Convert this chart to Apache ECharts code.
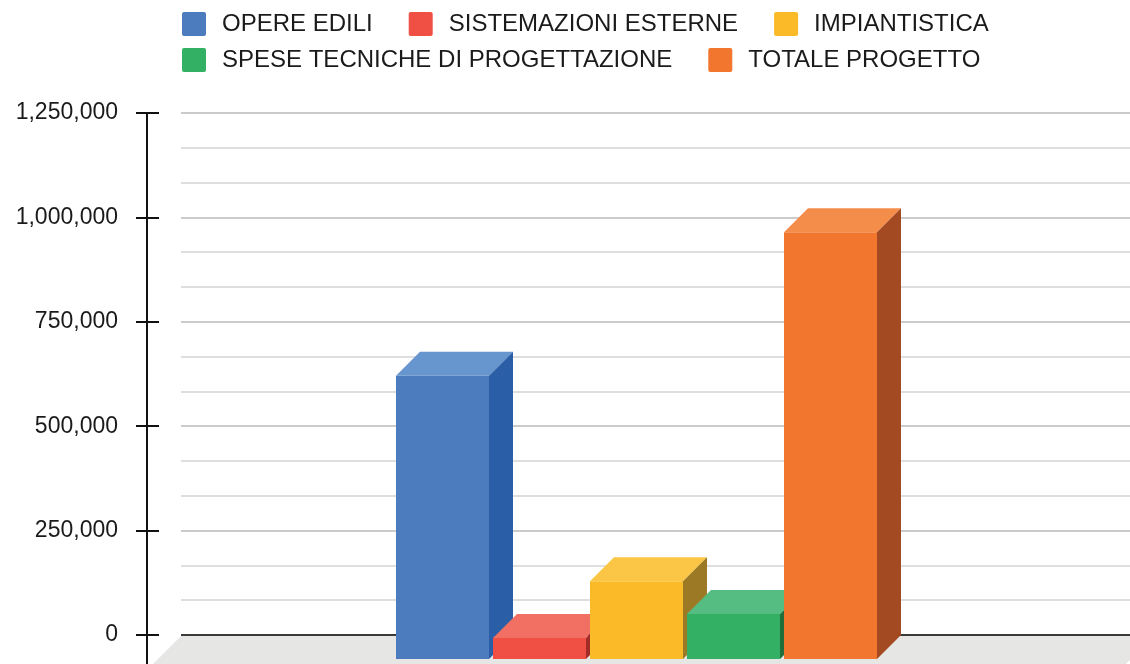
<!DOCTYPE html>
<html>
<head>
<meta charset="utf-8">
<script src="https://cdn.jsdelivr.net/npm/echarts@6/dist/echarts.min.js"></script>
<style>
  html, body { margin: 0; padding: 0; background: #fff; }
  #chart { width: 1130px; height: 664px; }
</style>
</head>
<body>
<div id="chart"></div>
<script>
  // data
  var categories = [''];
  var seriesNames = ['OPERE EDILI', 'SISTEMAZIONI ESTERNE', 'IMPIANTISTICA',
                     'SPESE TECNICHE DI PROGETTAZIONE', 'TOTALE PROGETTO'];
  var seriesValues = [678000, 50000, 186000, 108000, 1022000];
  var yMin = 0, yMax = 1250000, yStep = 250000;

  // front / top / side shades for the 3d look
  var palette = [
    ['#4d7cbe', '#6795cd', '#2a5ea6'],
    ['#ef5043', '#f26f64', '#a32c26'],
    ['#fbba27', '#fbc645', '#9c7924'],
    ['#33b063', '#56bd82', '#1f6e3c'],
    ['#f2762e', '#f48c4a', '#a34a22']
  ];

  var BAR_W = 93, PITCH = 97, DEPTH = 24, NUDGE = 5;
  var FONT = '"Liberation Sans", Arial, sans-serif';
  var SQUARE = 'path://M2,0H22Q24,0 24,2V22Q24,24 22,24H2Q0,24 0,22V2Q0,0 2,0Z';

  function renderBox(params, api) {
    var i = params.seriesIndex;
    var n = seriesNames.length;
    var top = api.coord([api.value(0), api.value(1)]);
    var base = api.coord([api.value(0), 0]);
    var c = palette[i];
    // back face sits on the wall, front face is shifted left/down by DEPTH
    var x0 = top[0] + NUDGE + (i - (n - 1) / 2) * PITCH - BAR_W / 2 - DEPTH;
    var yt = top[1], yb = base[1];
    return {
      type: 'group',
      children: [
        {
          type: 'rect',
          shape: { x: x0, y: yt + DEPTH, width: BAR_W, height: yb - yt },
          style: { fill: c[0] }
        },
        {
          type: 'polygon',
          shape: { points: [[x0, yt + DEPTH], [x0 + BAR_W, yt + DEPTH],
                            [x0 + BAR_W + DEPTH, yt], [x0 + DEPTH, yt]] },
          style: { fill: c[1] }
        },
        {
          type: 'polygon',
          shape: { points: [[x0 + BAR_W, yt + DEPTH], [x0 + BAR_W + DEPTH, yt],
                            [x0 + BAR_W + DEPTH, yb], [x0 + BAR_W, yb + DEPTH]] },
          style: { fill: c[2] }
        }
      ]
    };
  }

  var series = seriesNames.map(function (name, i) {
    return {
      name: name,
      type: 'custom',
      renderItem: renderBox,
      itemStyle: { color: palette[i][0] },
      data: [[0, seriesValues[i]]]
    };
  });

  var legendBase = {
    left: 182,
    padding: 0,
    itemWidth: 24,
    itemHeight: 24,
    itemGap: 36,
    icon: SQUARE,
    selectedMode: false,
    textStyle: { fontSize: 24, fontFamily: FONT, color: '#1a1a1a', padding: [0, 0, 0, 11] }
  };

  var gridBox = { left: 181, right: 0, top: 113, bottom: 29, containLabel: false };

  var chart = echarts.init(document.getElementById('chart'));
  chart.setOption({
    animation: false,
    backgroundColor: '#fff',
    legend: [
      Object.assign({}, legendBase, { top: 12, data: seriesNames.slice(0, 3) }),
      Object.assign({}, legendBase, { top: 48, data: seriesNames.slice(3) })
    ],
    // second grid only carries the ticks that cross the axis line
    grid: [gridBox, Object.assign({}, gridBox)],
    xAxis: [
      { type: 'category', data: categories, show: false, gridIndex: 0 },
      { type: 'category', data: categories, show: false, gridIndex: 1 }
    ],
    yAxis: [{
      type: 'value',
      gridIndex: 0,
      min: yMin,
      max: yMax,
      interval: yStep,
      offset: 34,
      axisLine: { show: true, lineStyle: { color: '#111', width: 2 } },
      axisTick: { show: false },
      axisLabel: {
        margin: 29,
        fontSize: 23,
        fontFamily: FONT,
        color: '#1a1a1a',
        formatter: function (v) { return v.toLocaleString('en-US'); }
      },
      splitLine: {
        show: true,
        lineStyle: { color: ['#3a3a3a', '#cbcbcb', '#cbcbcb', '#cbcbcb', '#cbcbcb', '#cbcbcb'], width: 2 }
      },
      minorTick: { show: false, splitNumber: 3 },
      minorSplitLine: { show: true, lineStyle: { color: '#dedede', width: 2 } }
    }, {
      type: 'value',
      gridIndex: 1,
      min: yMin,
      max: yMax,
      interval: yStep,
      offset: 22,
      axisLine: { show: false },
      axisTick: { show: true, inside: false, length: 23, lineStyle: { color: '#111', width: 2 } },
      axisLabel: { show: false },
      splitLine: { show: false }
    }],
    graphic: [
      {
        type: 'polygon',
        z: -1,
        shape: { points: [[181, 636], [1154, 636], [1122, 668], [149, 668]] },
        style: { fill: '#e6e7e5' }
      },
      {
        type: 'line',
        shape: { x1: 147, y1: 634, x2: 147, y2: 664 },
        style: { stroke: '#111', lineWidth: 2 }
      }
    ],
    series: series
  });
</script>
</body>
</html>
